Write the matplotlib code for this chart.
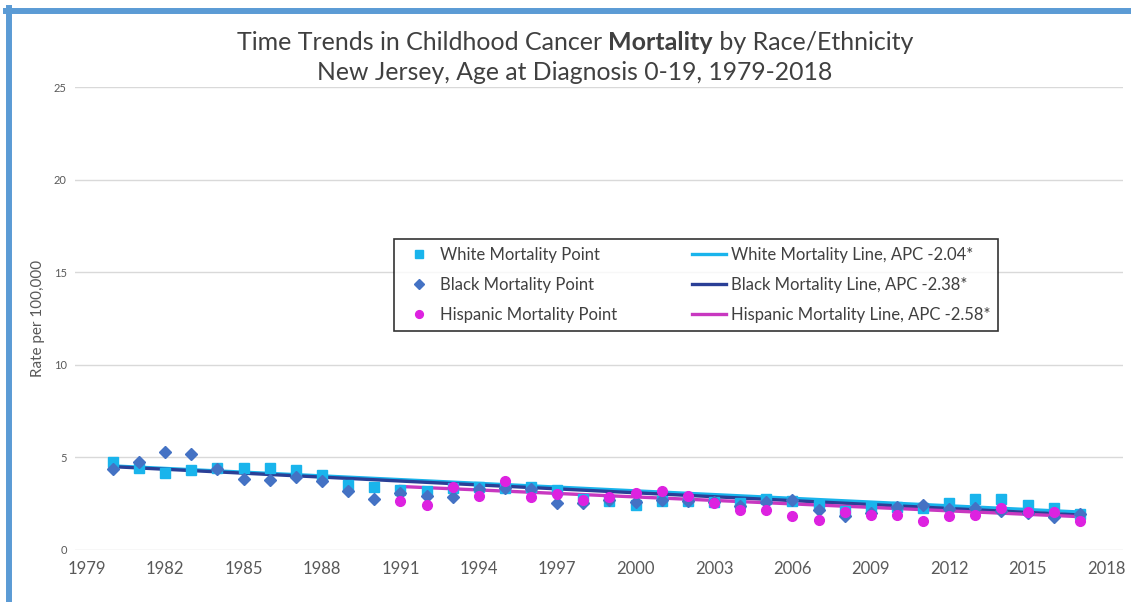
import numpy as np
import matplotlib
matplotlib.use('Agg')
import matplotlib.pyplot as plt
from matplotlib.lines import Line2D

plt.rcParams['font.family'] = ['Lato', 'DejaVu Sans']

# data
years = list(range(1980, 2018))
white_rate = [4.77, 4.43, 4.14, 4.32, 4.41, 4.45, 4.45, 4.32, 4.05, 3.52,
              3.38, 3.25, 3.21, 3.35, 3.38, 3.35, 3.38, 3.25, 2.75, 2.66,
              2.45, 2.66, 2.65, 2.60, 2.54, 2.77, 2.62, 2.45, 2.10, 2.32,
              2.30, 2.27, 2.54, 2.75, 2.75, 2.45, 2.27, 1.95]
black_rate = [4.40, 4.77, 5.27, 5.20, 4.40, 3.84, 3.77, 3.93, 3.73, 3.16,
              2.75, 3.10, 2.93, 2.84, 3.30, 3.34, 3.30, 2.54, 2.54, 2.70,
              2.60, 2.70, 2.63, 2.60, 2.40, 2.60, 2.68, 2.14, 1.82, 2.00,
              2.32, 2.45, 2.20, 2.27, 2.10, 2.00, 1.79, 1.96]
hisp_years = list(range(1991, 2018))
hisp_rate = [2.66, 2.43, 3.38, 2.91, 3.75, 2.84, 3.04, 2.71, 2.84, 3.07,
             3.16, 2.93, 2.54, 2.14, 2.14, 1.82, 1.64, 2.05, 1.91, 1.91,
             1.54, 1.82, 1.91, 2.25, 2.05, 2.05, 1.54]

# trend line end points (fitted APC lines)
white_line_x = [1980, 2017]
white_line_y = [4.54, 2.05]
black_line_x = [1980, 2017]
black_line_y = [4.50, 1.89]
hisp_line_x = [1991, 2017]
hisp_line_y = [3.43, 1.80]

apc = {'White': -2.04, 'Black': -2.38, 'Hispanic': -2.58}
xticks = list(range(1979, 2019, 3))
yticks = [0, 5, 10, 15, 20, 25]

c_white = '#19B4EC'
c_black = '#4472C4'
c_hisp = '#DD22E0'
c_black_line = '#2A3F96'
c_hisp_line = '#C838C0'

W, H = 1131, 602
fig = plt.figure(figsize=(W / 100, H / 100), dpi=100)
ax = fig.add_axes([75 / W, 52 / H, (1123 - 75) / W, (550 - 87) / H])

ax.plot(white_line_x, white_line_y, color=c_white, lw=2.4, zorder=2)
ax.plot(black_line_x, black_line_y, color=c_black_line, lw=2.4, zorder=2)
ax.plot(hisp_line_x, hisp_line_y, color=c_hisp_line, lw=2.4, zorder=2)

p1, = ax.plot(years, white_rate, ls='none', marker='s', ms=7, color=c_white, zorder=3)
p2, = ax.plot(years, black_rate, ls='none', marker='D', ms=6.5, color=c_black, zorder=4)
p3, = ax.plot(hisp_years, hisp_rate, ls='none', marker='o', ms=7, color=c_hisp, zorder=5)

l1 = Line2D([], [], color=c_white, lw=2.4)
l2 = Line2D([], [], color=c_black_line, lw=2.4)
l3 = Line2D([], [], color=c_hisp_line, lw=2.4)

ax.set_xlim(1978.55, 2018.65)
ax.set_ylim(0, 25)
ax.set_xticks(xticks)
ax.set_yticks(yticks)
ax.tick_params(axis='x', length=0, labelsize=12, labelcolor='#595959', pad=8)
ax.tick_params(axis='y', length=0, labelsize=8, labelcolor='#595959', pad=6)
for s in ax.spines.values():
    s.set_visible(False)
ax.grid(axis='y', color='#D9D9D9', lw=1)
ax.set_axisbelow(True)
ax.set_ylabel('Rate per 100,000', fontsize=11, color='#595959', labelpad=6)

leg = ax.legend([p1, p2, p3, l1, l2, l3],
                ['White Mortality Point', 'Black Mortality Point', 'Hispanic Mortality Point',
                 'White Mortality Line, APC %.2f*' % apc['White'],
                 'Black Mortality Line, APC %.2f*' % apc['Black'],
                 'Hispanic Mortality Line, APC %.2f*' % apc['Hispanic']],
                ncol=2, loc='center', bbox_to_anchor=(0.5926, 0.572),
                fontsize=12, frameon=True, fancybox=False, edgecolor='black',
                handlelength=2.0, handletextpad=0.3, columnspacing=4.5,
                labelspacing=0.85, borderpad=0.45, markerscale=0.8)
leg.get_frame().set_linewidth(1.2)
for t in leg.get_texts():
    t.set_color('#404040')

# title with bold word
fig.canvas.draw()
r = fig.canvas.get_renderer()
parts = [('Time Trends in Childhood Cancer ', 'normal'), ('Mortality', 'bold'),
         (' by Race/Ethnicity', 'normal')]
texts = []
for s, wgt in parts:
    texts.append(fig.text(0, 1 - 42 / H, s, fontsize=18, fontweight=wgt, color='#404040',
                          va='center', ha='left'))
widths = [t.get_window_extent(r).width for t in texts]
x0 = 575 - sum(widths) / 2
for t, w in zip(texts, widths):
    t.set_x(x0 / W)
    x0 += w
fig.text(575 / W, 1 - 73 / H, 'New Jersey, Age at Diagnosis 0-19, 1979-2018', fontsize=17.8,
         color='#404040', ha='center', va='center')

# blue frame around chart
fig.add_artist(Line2D([9 / W, 9 / W], [0, 1 - 8 / H], color='#5B9BD5', lw=4.3,
                      transform=fig.transFigure))
fig.add_artist(Line2D([6 / W, 1], [1 - 11 / H, 1 - 11 / H], color='#5B9BD5', lw=4.3,
                      transform=fig.transFigure))

fig.savefig('out.png', dpi=100)
